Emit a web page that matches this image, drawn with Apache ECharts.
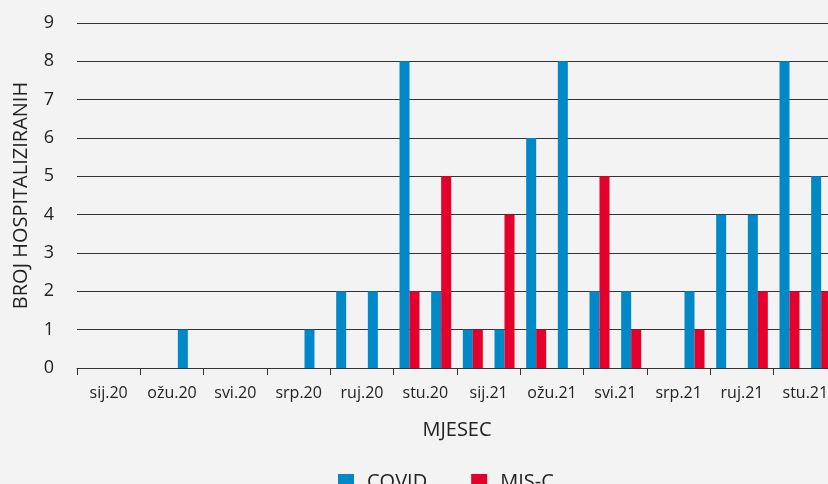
<!DOCTYPE html>
<html>
<head>
<meta charset="utf-8">
<script src="https://cdn.jsdelivr.net/npm/echarts@6/dist/echarts.min.js"></script>
<style>
html,body{margin:0;padding:0;background:#f3f3f3;}
#chart{width:828px;height:484px;}
</style>
</head>
<body>
<div id="chart"></div>
<script>
let months=["sij.20","velj.20","ožu.20","tra.20","svi.20","lip.20","srp.20","kol.20","ruj.20","lis.20","stu.20","pro.20",
	"sij.21","velj.21","ožu.21","tra.21","svi.21","lip.21","srp.21","kol.21","ruj.21","lis.21","stu.21","pro.21"];
let tick_labels=["sij.20","ožu.20","svi.20","srp.20","ruj.20","stu.20","sij.21","ožu.21","svi.21","srp.21","ruj.21","stu.21"];
let covid=[0,0,0,1,0,0,0,1,2,2,8,2, 1,1,6,8,2,2,0,2,4,4,8,5];
let misc=[0,0,0,0,0,0,0,0,0,0,2,5, 1,4,1,0,5,1,0,1,0,2,2,2];

let font="'Open Sans', sans-serif";
let chart=echarts.init(document.getElementById('chart'));

chart.setOption({
	backgroundColor:"#f3f3f3",
	textStyle:{fontFamily:font},
	// plot runs past the right edge, like the original
	grid:{left:77,width:760,top:23,height:345,outerBoundsMode:"none",containLabel:false},
	legend:{
		top:467,
		left:333,
		icon:"rect",
		itemWidth:16,
		itemHeight:16,
		itemGap:44,
		textStyle:{fontFamily:font,fontSize:20,color:"#222",padding:[0,0,0,8]},
		data:["COVID","MIS-C"],
	},
	xAxis:[
		{
			type:"category",
			data:months,
			position:"bottom",
			axisLine:{show:false},
			axisTick:{show:false},
			axisLabel:{show:false},
		},
		{
			type:"category",
			data:tick_labels,
			position:"bottom",
			name:"MJESEC",
			nameLocation:"middle",
			nameGap:52,
			nameTextStyle:{fontFamily:font,fontSize:20,color:"#222"},
			axisLine:{show:true,lineStyle:{color:"#333",width:1}},
			axisTick:{show:true,interval:0,length:7,lineStyle:{color:"#333"}},
			axisLabel:{interval:0,hideOverlap:false,fontFamily:font,fontSize:16,color:"#222",margin:17},
		},
	],
	yAxis:{
		type:"value",
		min:0,
		max:9,
		interval:1,
		name:"BROJ HOSPITALIZIRANIH",
		nameLocation:"middle",
		nameGap:46,
		nameTextStyle:{fontFamily:font,fontSize:20,color:"#222"},
		axisLine:{show:false},
		axisTick:{show:false},
		axisLabel:{fontFamily:font,fontSize:18,color:"#222",margin:23},
		splitLine:{lineStyle:{color:"#333",width:1}},
	},
	series:[
		{
			name:"COVID",
			type:"bar",
			xAxisIndex:0,
			data:covid,
			barWidth:10,
			barGap:"0%",
			itemStyle:{color:"#0088c7"},
		},
		{
			name:"MIS-C",
			type:"bar",
			xAxisIndex:0,
			data:misc,
			barWidth:10,
			barGap:"0%",
			itemStyle:{color:"#e4002b"},
		},
	],
});
</script>
</body>
</html>
